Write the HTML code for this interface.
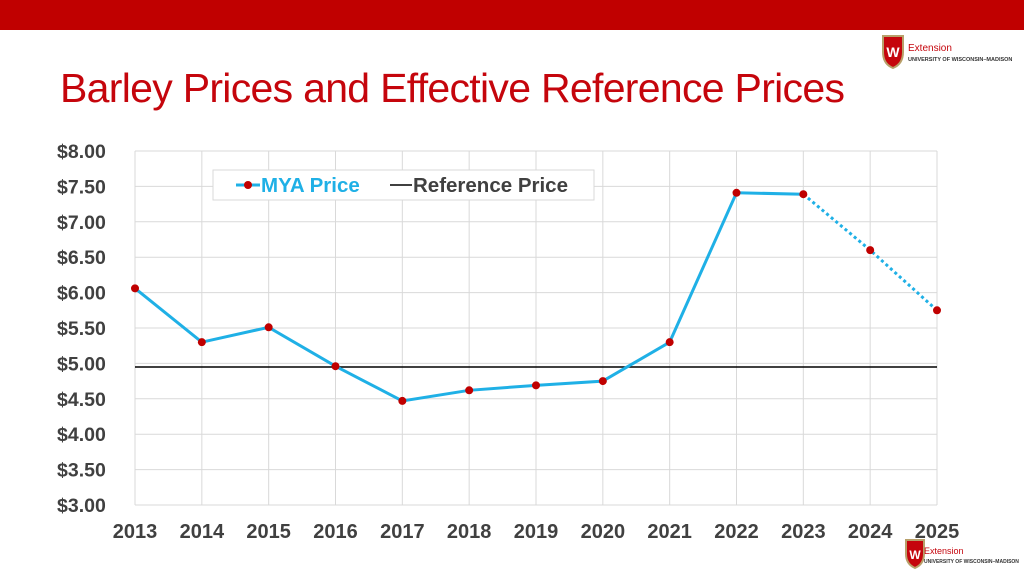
<!DOCTYPE html>
<html><head><meta charset="utf-8"><style>
body{margin:0;width:1024px;height:576px;background:#fff;overflow:hidden;position:relative;font-family:"Liberation Sans",sans-serif}
.bar{position:absolute;left:0;top:0;width:1024px;height:30px;background:#c00000}
h1{position:absolute;left:60px;top:65px;margin:0;font-weight:normal;font-size:41px;color:#c5050c;letter-spacing:-0.7px;white-space:nowrap}
</style></head><body>
<div class="bar"></div>
<h1>Barley Prices and Effective Reference Prices</h1>
<svg width="1024" height="576" style="position:absolute;left:0;top:0" id="chart">
<g>
<path d="M883,36 h20 v16 q0,12 -10,16 q-10,-4 -10,-16z" fill="#c5050c" stroke="#b8a06a" stroke-width="2"/>
<text x="893" y="57" font-size="14" fill="#fff" text-anchor="middle" font-weight="bold">W</text>
<text x="908" y="51" font-size="10" fill="#c5050c">Extension</text>
<text x="908" y="61" font-size="5.5" fill="#333" font-weight="bold">UNIVERSITY OF WISCONSIN–MADISON</text>
</g>
<g>
<path d="M906,540 h18 v14 q0,10 -9,14 q-9,-4 -9,-14z" fill="#c5050c" stroke="#b8a06a" stroke-width="2"/>
<text x="915" y="559" font-size="12" fill="#fff" text-anchor="middle" font-weight="bold">W</text>
<text x="924" y="554" font-size="9" fill="#c5050c">Extension</text>
<text x="924" y="563" font-size="5" fill="#333" font-weight="bold">UNIVERSITY OF WISCONSIN–MADISON</text>
</g>
</svg>
<script>
const years=[2013,2014,2015,2016,2017,2018,2019,2020,2021,2022,2023,2024,2025];
const mya=[6.06,5.30,5.51,4.96,4.47,4.62,4.69,4.75,5.30,7.41,7.39,6.60,5.75];
const refPrice=4.95;
const yTicks=[3,3.5,4,4.5,5,5.5,6,6.5,7,7.5,8];
const svg=document.getElementById('chart');
const NS='http://www.w3.org/2000/svg';
const x0=135,x1=937,yTop=151,yBot=505;
const X=i=>x0+(x1-x0)*i/(years.length-1);
const Y=v=>yBot-(v-3)/5*(yBot-yTop);
function mk(t,a){const e=document.createElementNS(NS,t);for(const k in a)e.setAttribute(k,a[k]);svg.appendChild(e);return e;}
yTicks.forEach(v=>{
 const l=mk('line',{x1:x0,x2:x1,y1:Y(v),y2:Y(v),stroke:'#d9d9d9'});
 
 
 const t=mk('text',{x:57,y:Y(v)+7,'font-size':19.5,'font-weight':'bold',fill:'#404040'});
 t.textContent='$'+v.toFixed(2);
 
 
});
years.forEach((yr,i)=>{
 const l=mk('line',{x1:X(i),x2:X(i),y1:yTop,y2:yBot,stroke:'#d9d9d9'});
 
 
 const t=mk('text',{x:X(i),y:538,'font-size':20,'font-weight':'bold',fill:'#404040','text-anchor':'middle'});
 t.textContent=yr;
 
 
});
const r=mk('line',{x1:x0,x2:x1,y1:Y(refPrice),y2:Y(refPrice),stroke:'#000','stroke-width':1.5});


const solidN=11;
const pts=mya.map((v,i)=>X(i)+','+Y(v));
const s=mk('polyline',{points:pts.slice(0,solidN).join(' '),fill:'none',stroke:'#1fb0e6','stroke-width':3});


const d=mk('polyline',{points:pts.slice(solidN-1).join(' '),fill:'none',stroke:'#1fb0e6','stroke-width':3,'stroke-dasharray':'3 3'});


mya.forEach((v,i)=>{
 const c=mk('circle',{cx:X(i),cy:Y(v),r:4,fill:'#c00000'});
 
 
});
const lg=mk('rect',{x:213,y:170,width:381,height:30,fill:'#fff',stroke:'#d9d9d9'});


mk('line',{x1:236,x2:260,y1:185,y2:185,stroke:'#1fb0e6','stroke-width':3});
mk('circle',{cx:248,cy:185,r:4,fill:'#c00000'});
const t1=mk('text',{x:261,y:192,'font-size':20.5,'font-weight':'bold',fill:'#1fb0e6'});t1.textContent='MYA Price';


mk('line',{x1:390,x2:412,y1:185,y2:185,stroke:'#000','stroke-width':1.5});
const t2=mk('text',{x:413,y:192,'font-size':20.5,'font-weight':'bold',fill:'#404040'});t2.textContent='Reference Price';


</script>
</body></html>
